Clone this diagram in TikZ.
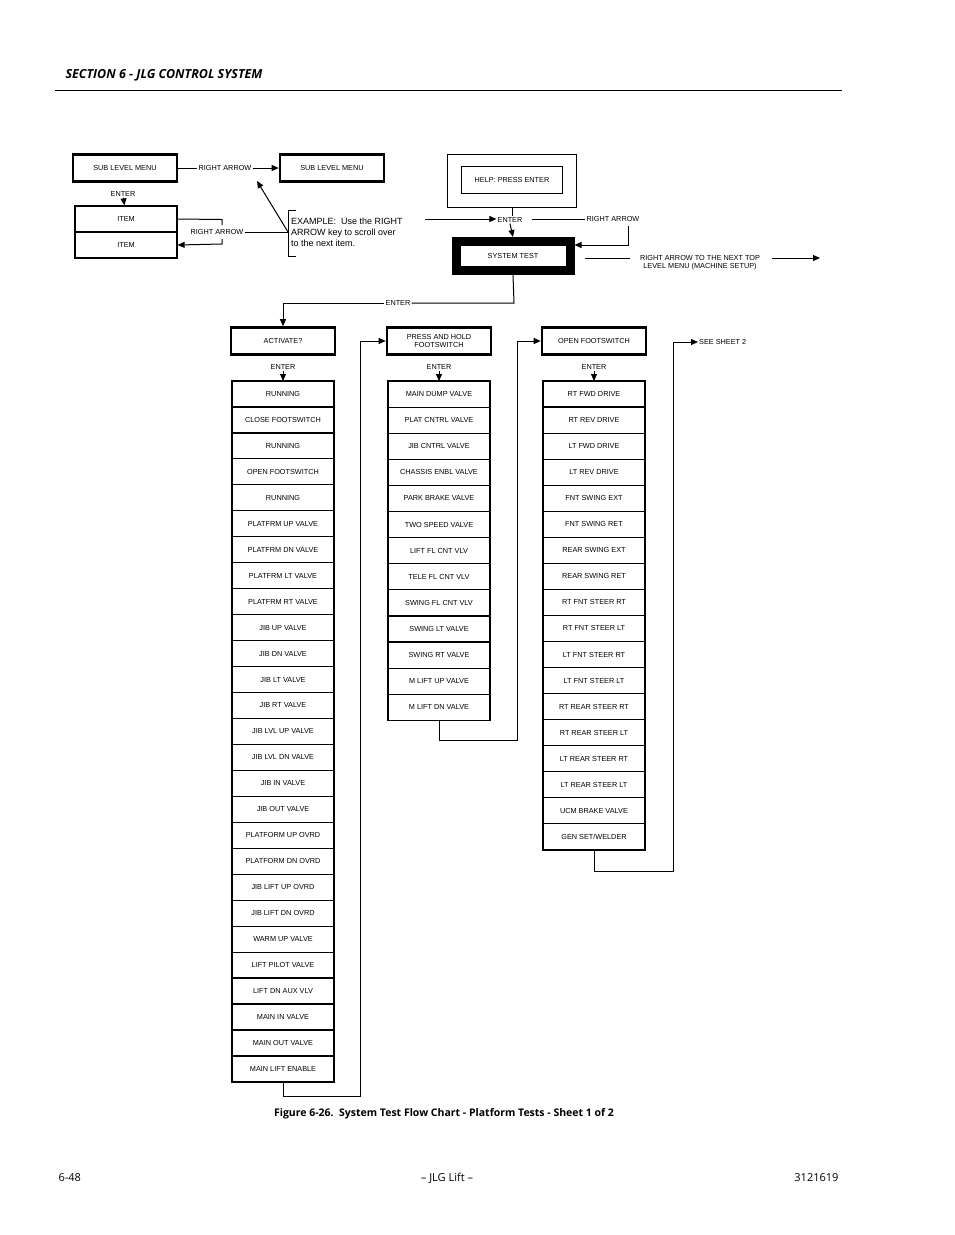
\documentclass[tikz,border=0pt]{standalone}
\usepackage{fontspec}
\setmainfont{Liberation Sans}
\newfontfamily\capfont{Open Sans}
\usetikzlibrary{arrows.meta,positioning}
\tikzset{
  menu/.style={draw,line width=2.6pt,minimum width=104pt,minimum height=27pt,inner sep=1pt,align=center,font=\fontsize{7.3}{8}\selectfont},
  item/.style={draw,line width=1.2pt,minimum width=102pt,minimum height=26pt,inner sep=0pt,font=\fontsize{7.3}{8}\selectfont},
  lbl/.style={font=\fontsize{7.3}{8}\selectfont,inner sep=1pt},
  link/.style={line width=1pt},
  go/.style={line width=1pt,-{Triangle[length=7pt,width=6pt]}}
}
\begin{document}
\begin{tikzpicture}[x=1pt,y=-1pt]
\useasboundingbox (0,0) rectangle (954,1235);
%%% page head and foot
\node[anchor=west,font=\capfont\bfseries\itshape\fontsize{12.5}{14}\selectfont] (head) at (62,75) {SECTION 6 - JLG CONTROL SYSTEM};
\draw[line width=0.8pt] (55,90) -- (842,90);
\node[anchor=west,font=\capfont\fontsize{11}{13}\selectfont] (pg) at (55,1178) {6-48};
\node[font=\capfont\fontsize{11}{13}\selectfont] (mid) at (447,1178) {– JLG Lift –};
\node[anchor=east,font=\capfont\fontsize{11}{13}\selectfont] (num) at (842,1178) {3121619};
\node[font=\capfont\bfseries\fontsize{10.5}{12}\selectfont] (cap) at (444,1114) {Figure 6-26.\ \ System Test Flow Chart - Platform Tests - Sheet 1 of 2};
%%% legend at top left
\node[menu] (sub1) at (125,168) {SUB LEVEL MENU};
\node[menu] (sub2) at (332,168) {SUB LEVEL MENU};
\node[lbl] (ra1) at (225,168) {RIGHT ARROW};
\draw[link] (sub1) -- (ra1);
\draw[go] (ra1) -- (sub2);
\node[lbl] (en1) at (123,194) {ENTER};
\node[item] (it1) at (126,219) {ITEM};
\node[item] (it2) at (126,245) {ITEM};
\draw[go] (en1) -- (it1);
\node[lbl] (ra2) at (217,232) {RIGHT ARROW};
\draw[link] (it1.east) -- (222,219.5) -- (222,225);
\draw[go] (222,239) -- (222,244) -- (it2.east);
\node[align=left,anchor=west,font=\fontsize{9}{11}\selectfont,inner sep=1pt] (ex) at (290,232) {EXAMPLE:\ \ Use the RIGHT\\ARROW key to scroll over\\to the next item.};
\draw[link] (ra2.east) -- (288,232);
\draw[link] (296,210) -- (288,210) -- (288,256) -- (296,256);
\draw[go] (288,232) -- (257,181);
%%% system test
\node[draw,line width=1.2pt,minimum width=129pt,minimum height=53pt] (helpo) at (512,181) {};
\node[draw,line width=1.2pt,minimum width=101pt,minimum height=27pt,font=\fontsize{7.3}{8}\selectfont] (help) at (512,180) {HELP: PRESS ENTER};
\node[lbl] (en2) at (510,220) {ENTER};
\node[lbl] (ra3) at (613,219) {RIGHT ARROW};
\node[draw,line width=9pt,minimum width=114pt,minimum height=29pt,font=\fontsize{7.3}{8}\selectfont] (sys) at (513,256) {SYSTEM TEST};
\coordinate (exr) at (425,219);
\draw[go] (exr) -- (exr -| en2.west);
\draw[link] (helpo.south) -- (en2.north -| helpo.south);
\draw[go] (en2.south) -- (sys.north);
\draw[link] (en2.east |- ra3) ++(8,0) -- (ra3.west);
\draw[go] (628,226) -- (628,245) -- (sys.east |- 245,245);
\node[lbl,align=center] (next) at (700,263) {RIGHT ARROW TO THE NEXT TOP\\LEVEL MENU (MACHINE SETUP)};
\draw[link] (sys.east) ++(10,2) -- (630,258);
\draw[go] (772,258) -- (820,258);
\node[lbl] (en3) at (398,303) {ENTER};
\draw[link] (sys.south) -- (514,303) -- (en3.east);
%%% column heads
\node[menu] (act) at (283,341) {ACTIVATE?};
\node[menu] (hold) at (439,341) {PRESS AND HOLD\\FOOTSWITCH};
\node[menu] (open) at (594,341) {OPEN FOOTSWITCH};
\draw[go] (en3.west) -- (283,303) -- (act.north);
\foreach \h/\x in {act/283,hold/439,open/594}{
  \node[lbl] (e\h) at (\x,367) {ENTER};
  \draw[go] (e\h.south) -- (\x,381);
}
%%% first column
\foreach \t [count=\i] in {RUNNING,CLOSE FOOTSWITCH,RUNNING,OPEN FOOTSWITCH,RUNNING,PLATFRM UP VALVE,PLATFRM DN VALVE,PLATFRM LT VALVE,PLATFRM RT VALVE,JIB UP VALVE,JIB DN VALVE,JIB LT VALVE,JIB RT VALVE,JIB LVL UP VALVE,JIB LVL DN VALVE,JIB IN VALVE,JIB OUT VALVE,PLATFORM UP OVRD,PLATFORM DN OVRD,JIB LIFT UP OVRD,JIB LIFT DN OVRD,WARM UP VALVE,LIFT PILOT VALVE,LIFT DN AUX VLV,MAIN IN VALVE,MAIN OUT VALVE,MAIN LIFT ENABLE}
  \node[item,minimum height=25.96pt] (a\i) at (283,{381+25.96*(\i-0.5)}) {\t};
%%% second column
\foreach \t [count=\i] in {MAIN DUMP VALVE,PLAT CNTRL VALVE,JIB CNTRL VALVE,CHASSIS ENBL VALVE,PARK BRAKE VALVE,TWO SPEED VALVE,LIFT FL CNT VLV,TELE FL CNT VLV,SWING FL CNT VLV,SWING LT VALVE,SWING RT VALVE,M LIFT UP VALVE,M LIFT DN VALVE}
  \node[item,minimum height=26.1pt] (b\i) at (439,{381+26.1*(\i-0.5)}) {\t};
%%% third column
\foreach \t [count=\i] in {RT FWD DRIVE,RT REV DRIVE,LT FWD DRIVE,LT REV DRIVE,FNT SWING EXT,FNT SWING RET,REAR SWING EXT,REAR SWING RET,RT FNT STEER RT,RT FNT STEER LT,LT FNT STEER RT,LT FNT STEER LT,RT REAR STEER RT,RT REAR STEER LT,LT REAR STEER RT,LT REAR STEER LT,UCM BRAKE VALVE,GEN SET/WELDER}
  \node[item,minimum height=26.05pt] (c\i) at (594,{381+26.05*(\i-0.5)}) {\t};
%%% links between columns
\draw[go] (a27.south) -- (283,1096) -- (360,1096) -- (360,341) -- (hold.west);
\draw[go] (b13.south) -- (439,740) -- (517,740) -- (517,341) -- (open.west);
\node[lbl,anchor=west] (sheet) at (698,342) {SEE SHEET 2};
\draw[go] (c18.south) -- (594,871) -- (673,871) -- (673,342) -- (sheet.west);
\end{tikzpicture}
\end{document}
